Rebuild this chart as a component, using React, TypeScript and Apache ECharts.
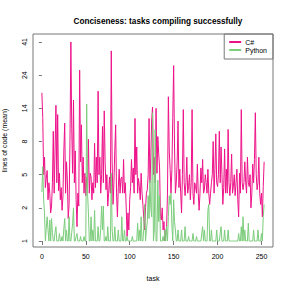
import React, { useEffect, useRef } from "react";
import * as echarts from "echarts";

const yTickValues = [1, 2, 5, 8, 14, 24, 41];
const xTicks = [0, 50, 100, 150, 200, 250];

const csharp = [
  18, 12, 5, 6.4, 3.5, 4.5, 5.3, 2.5, 4, 3, 1.8, 2.1, 4, 9.5, 3, 7, 14.7, 4, 12.6, 3.2,
  5.1, 2.5, 3.5, 1.9, 2.8, 7, 10.9, 3, 6, 4.3, 1.6, 2.2, 8, 41, 10, 5.1, 16, 4, 7, 2.5,
  1.35, 3, 2.1, 26, 6, 10.6, 4, 6.4, 3, 5.1, 2.8, 4.7, 3.5, 8.3, 3, 5.1, 4.7, 2.5, 4, 3,
  7.8, 3.5, 6.4, 4, 18.5, 5, 6.4, 3, 5, 10.3, 4, 13.4, 6, 3.3, 5, 2.1, 3, 4.7, 3, 35.5,
  6, 2.2, 4, 7, 10.6, 3, 1.66, 3.5, 5.4, 3, 4.5, 4.7, 3, 6.2, 3, 4, 2, 1.1, 1.8, 1.26,
  2.5, 3.5, 6.2, 4, 5.5, 3, 11.8, 5, 7.4, 3, 4.5, 3.6, 2.5, 5.1, 3, 2.2, 1.6, 1.26, 2, 3,
  3.3, 5, 11.8, 4, 6.4, 11.5, 14.3, 5, 6.4, 4, 14, 5.1, 8.7, 6.7, 5.5, 1.66, 1.55, 2, 1.26, 1.5,
  1.0, 1.2, 1.35, 3, 16.9, 7, 5.4, 3, 5.4, 12, 28, 7.4, 3, 4, 6, 11.3, 3.5, 5.4, 3, 1.8,
  5, 13.7, 4, 2.8, 4, 6.4, 3, 3.6, 5, 2.5, 4, 13.7, 3, 2.2, 4, 3.6, 3, 5.8, 3, 1.9,
  3, 5.5, 4, 6.2, 3, 3.3, 5, 4, 3, 5.4, 3, 2.2, 3, 4, 5, 8, 3, 5.4, 9.1, 4,
  3.6, 5, 9.5, 4, 7.4, 5, 2.2, 3.5, 7.2, 3, 5.4, 3, 9.8, 4, 2.8, 4, 6.7, 3, 3.6, 5,
  2.8, 4, 5.4, 2.5, 1.66, 5.1, 3, 13.7, 4, 3.3, 4, 6, 4, 3, 6.4, 4, 3.6, 5, 2, 3,
  5.8, 4, 6.2, 13, 5, 3.3, 4, 6.4, 3, 2.2, 3, 1.66, 3.6, 6,
];

const python = [
  3.1, 5.6, 2.5, 1.8, 1, 1.3, 1.66, 1.26, 1, 1.55, 1, 1.6, 1.2, 1, 1, 1.2, 1.35, 1, 1, 1,
  1.17, 1, 1, 1.1, 1, 1.3, 1.6, 1, 1.26, 1, 1, 1.66, 1, 1, 1.2, 1.45, 2, 1, 1, 1.1,
  1.17, 1, 1, 1, 1.1, 1, 1, 1, 1.1, 1, 1, 15, 3, 1.8, 1, 1, 1.66, 1, 1.26, 1,
  1.9, 1, 1, 1, 1.35, 1, 1, 1.3, 2.1, 1.26, 2.1, 1, 1, 1.1, 1, 1.35, 1, 1, 1, 5.1,
  1.26, 1, 1, 1.35, 1, 1, 1, 1.26, 1, 1, 1, 1.66, 1, 1, 1.26, 1, 1, 1.1, 1, 1,
  1, 1, 1, 1.1, 1, 1, 1, 1, 1, 1.45, 1, 1.26, 1, 1.66, 1, 1, 1.3, 2.2, 1, 1.26,
  1.5, 2.8, 1.6, 4.3, 2, 1.66, 13, 1, 1.26, 9.8, 1, 1, 4.3, 1.5, 2.8, 1, 1, 1, 1.1, 1,
  1.26, 1, 1.35, 1, 1.66, 2.8, 2.2, 3, 1.4, 1, 2.5, 1.5, 1.26, 1, 1, 1.26, 1, 1, 1, 1.26,
  1, 1, 1, 1.35, 1, 1, 1, 1.1, 1, 1, 1, 1, 1.17, 1, 1, 1, 1.1, 1, 1, 1,
  1, 1, 1.17, 1.35, 1, 1.26, 1, 1, 1, 1.9, 2.2, 1, 1, 1.26, 1, 1, 1, 1, 1, 1.26,
  1, 1, 1, 1.17, 1.35, 1, 1, 1, 1.26, 1, 1, 1, 1.26, 1, 1, 1, 1, 1, 1, 1,
  1, 1, 1, 1, 1.17, 1, 1, 1.35, 1, 1.66, 1, 1.26, 1, 1, 1, 1.45, 1, 1, 1, 1,
  1, 1.26, 1, 1, 1, 1, 1.26, 1, 1, 1, 1.17, 1, 1.66, 2.2,
];

// maps a mean value onto the axis' equally spaced tick levels (log-interpolated)
function toLevel(v: number): number {
  const T = yTickValues;
  if (v <= T[0]) return Math.log(v / T[0]) / Math.log(T[1] / T[0]);
  for (let k = 0; k < T.length - 1; k++) {
    if (v <= T[k + 1]) return k + Math.log(v / T[k]) / Math.log(T[k + 1] / T[k]);
  }
  const n = T.length - 1;
  return n + Math.log(v / T[n]) / Math.log(T[n] / T[n - 1]);
}

const font = "Liberation Sans, Arial, Helvetica, sans-serif";

export default function App() {
  const ref = useRef<HTMLDivElement>(null);
  useEffect(() => {
    document.body.style.margin = "0";
    const chart = echarts.init(ref.current!, null, { renderer: "svg" });
    const levels = yTickValues.map((_, i) => i);
    chart.setOption({
      animation: false,
      backgroundColor: "#ffffff",
      title: {
        text: "Conciseness: tasks compiling successfully",
        left: 153,
        top: 12,
        textAlign: "center",
        textStyle: { fontFamily: font, fontSize: 8.2, fontWeight: "bold", color: "#000" },
      },
      legend: {
        orient: "vertical",
        right: 18,
        top: 34,
        borderColor: "#777",
        borderWidth: 1,
        padding: [4, 6, 5, 5],
        itemGap: 0,
        itemWidth: 12,
        itemHeight: 2,
        icon: "rect",
        textStyle: { fontFamily: font, fontSize: 7, color: "#000", lineHeight: 8, padding: [0, 0, 0, -1] },
        data: ["C#", "Python"],
      },
      grid: {
        left: 33,
        top: 34,
        right: 18,
        bottom: 44,
        show: true,
        borderColor: "#777",
        borderWidth: 1,
        backgroundColor: "transparent",
        outerBoundsMode: "none",
        containLabel: false,
      },
      xAxis: {
        type: "value",
        min: -10.1,
        max: 263.1,
        name: "task",
        nameLocation: "middle",
        nameGap: 28,
        nameTextStyle: { fontFamily: font, fontSize: 7, color: "#000" },
        axisLine: { show: false },
        splitLine: { show: false },
        axisTick: { show: true, length: 4, customValues: xTicks, lineStyle: { color: "#777" } },
        axisLabel: { customValues: xTicks, fontFamily: font, fontSize: 7, color: "#000", margin: 6 },
      },
      yAxis: {
        type: "value",
        min: -0.18,
        max: 6.24,
        name: "lines of code (mean)",
        nameLocation: "middle",
        nameGap: 25,
        nameTextStyle: { fontFamily: font, fontSize: 7, color: "#000" },
        axisLine: { show: false },
        splitLine: { show: false },
        axisTick: { show: true, length: 3, customValues: levels, lineStyle: { color: "#777" } },
        axisLabel: {
          customValues: levels,
          rotate: 90,
          fontFamily: font,
          fontSize: 7,
          color: "#000",
          margin: 5,
          formatter: (v: number) => String(yTickValues[Math.round(v)]),
        },
      },
      series: [
        {
          name: "C#",
          type: "line",
          showSymbol: false,
          color: "#EE1289",
          lineStyle: { width: 1, color: "#EE1289" },
          data: csharp.map((v, i) => [i, toLevel(v)]),
        },
        {
          name: "Python",
          type: "line",
          showSymbol: false,
          color: "#7CCD7C",
          lineStyle: { width: 1, color: "#7CCD7C" },
          data: python.map((v, i) => [i, toLevel(v)]),
        },
      ],
    });
    return () => chart.dispose();
  }, []);
  return <div ref={ref} style={{ width: 291, height: 291 }} />;
}
